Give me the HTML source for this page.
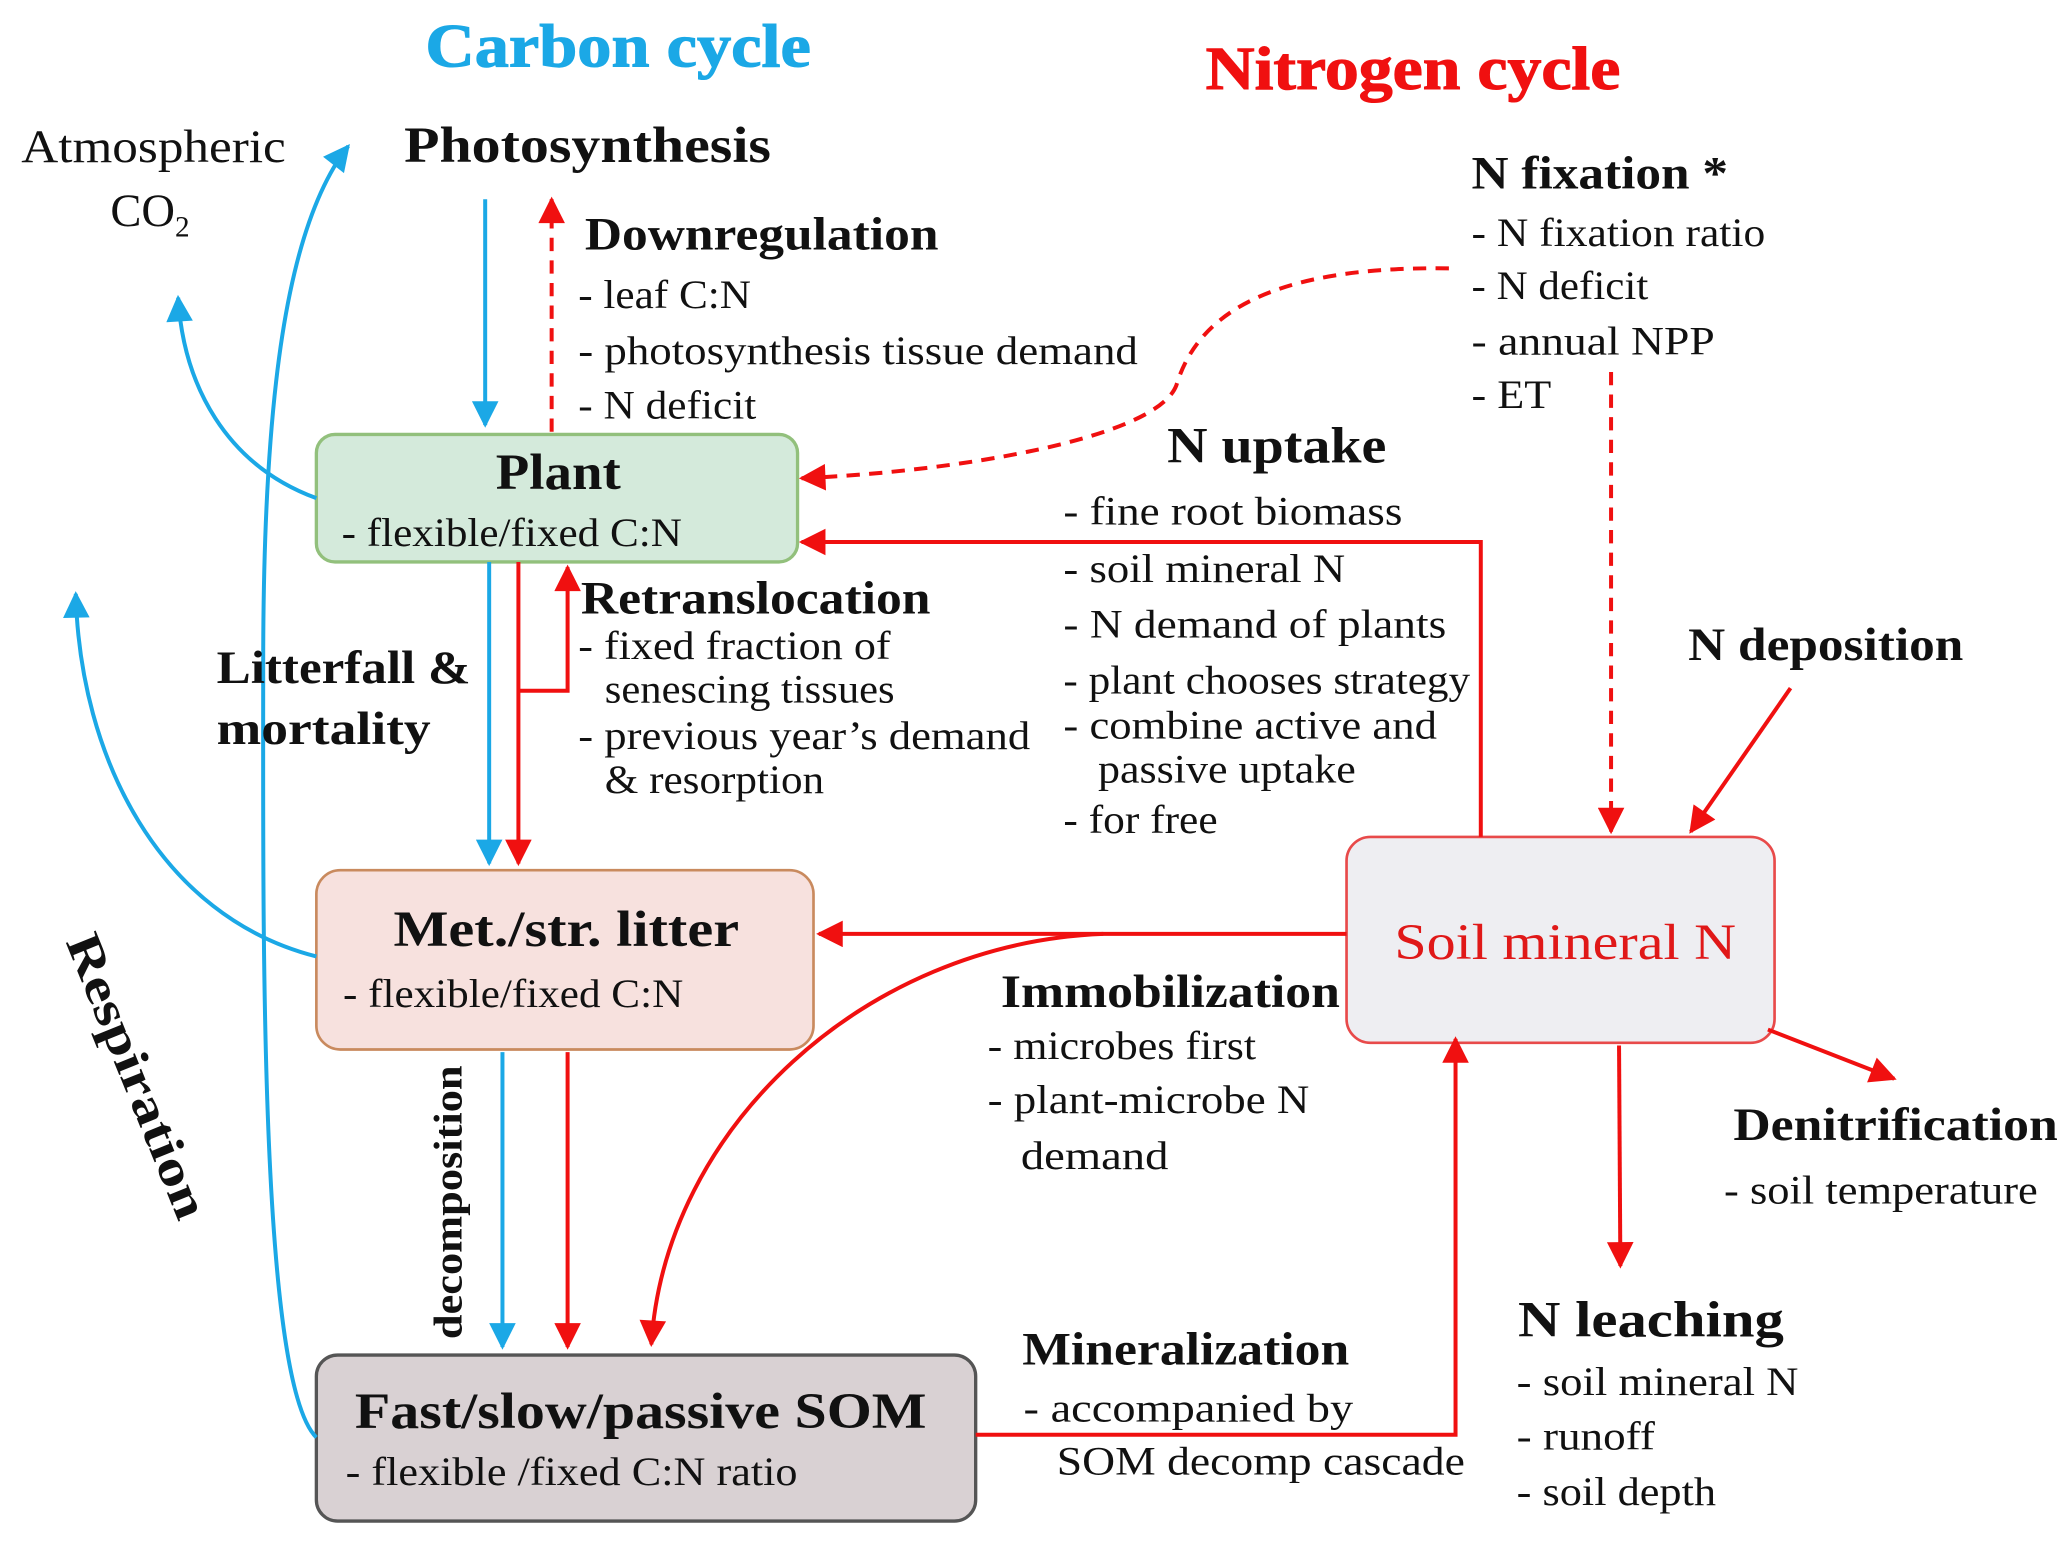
<!DOCTYPE html>
<html><head><meta charset="utf-8"><style>
html,body{margin:0;padding:0;background:#fff;}
svg{display:block;}
text{font-family:"Liberation Serif","DejaVu Serif",serif;fill:#111;}
.b{font-weight:bold;}
.h{font-size:35px;font-weight:bold;}
.t{font-size:30px;}
</style></head><body>
<svg width="2067" height="1545" viewBox="0 0 1555 1163" preserveAspectRatio="none" xmlns="http://www.w3.org/2000/svg">
<defs>
<marker id="abL" viewBox="0 0 10 10" refX="9" refY="5" markerWidth="22" markerHeight="20" markerUnits="userSpaceOnUse" orient="auto"><path d="M0,0L10,5L0,10z" fill="#1ba8e6"/></marker>
<marker id="arL" viewBox="0 0 10 10" refX="9" refY="5" markerWidth="22" markerHeight="20" markerUnits="userSpaceOnUse" orient="auto"><path d="M0,0L10,5L0,10z" fill="#f01010"/></marker>
</defs>

<rect x="238" y="327" width="362" height="96" rx="14" fill="#d4eadb" stroke="#92c07c" stroke-width="2.5"/>
<rect x="238" y="655" width="374" height="135" rx="18" fill="#f7e1de" stroke="#c98a5e" stroke-width="2"/>
<rect x="238" y="1020" width="496" height="125" rx="16" fill="#d9d1d3" stroke="#555" stroke-width="2.5"/>
<rect x="1013" y="630" width="322" height="155" rx="18" fill="#eeeef2" stroke="#e84a4a" stroke-width="2"/>

<g stroke="#1ba8e6" stroke-width="3" fill="none">
<path d="M365,150 L365,320" marker-end="url(#abL)"/>
<path d="M238,375 C170,350 138,290 134,224" marker-end="url(#abL)"/>
<path d="M238,720 C120,690 60,570 57,447" marker-end="url(#abL)"/>
<path d="M238,1082 C195,1040 198,700 198,500 C198,300 215,170 262,110" marker-end="url(#abL)"/>
<path d="M368,423 L368,650" marker-end="url(#abL)"/>
<path d="M378,792 L378,1014" marker-end="url(#abL)"/>
</g>
<g stroke="#f01010" stroke-width="3" fill="none">
<path d="M415,325 L415,150" stroke-dasharray="10,7" marker-end="url(#arL)"/>
<path d="M390,423 L390,650" marker-end="url(#arL)"/>
<path d="M390,520 L427,520 L427,427" marker-end="url(#arL)"/>
<path d="M427,792 L427,1014" marker-end="url(#arL)"/>
<path d="M1090,202 C950,200 900,240 885,290 C870,330 720,355 603,360" stroke-dasharray="10,7" marker-end="url(#arL)"/>
<path d="M1114,630 L1114,408 L603,408" marker-end="url(#arL)"/>
<path d="M1212,280 L1212,626" stroke-dasharray="10,7" marker-end="url(#arL)"/>
<path d="M1347,518 L1272,626" marker-end="url(#arL)"/>
<path d="M1013,703 L616,703" marker-end="url(#arL)"/>
<path d="M830,703 C650,710 500,850 490,1012" marker-end="url(#arL)"/>
<path d="M734,1080 L1095,1080 L1095,782" marker-end="url(#arL)"/>
<path d="M1218,787 L1219,953" marker-end="url(#arL)"/>
<path d="M1330,775 L1425,812" marker-end="url(#arL)"/>
</g>

<g lengthAdjust="spacingAndGlyphs">
<text x="320" y="50" textLength="290" lengthAdjust="spacingAndGlyphs" class="b" style="font-size:46px;fill:#1ba8e6;stroke:#1ba8e6;stroke-width:0.8">Carbon cycle</text>
<text x="907" y="67" textLength="312" lengthAdjust="spacingAndGlyphs" class="b" style="font-size:46px;fill:#f01010;stroke:#f01010;stroke-width:0.8">Nitrogen cycle</text>

<text x="16" y="122" textLength="199" lengthAdjust="spacingAndGlyphs" style="font-size:35px">Atmospheric</text>
<text x="83" y="170" style="font-size:35px">CO<tspan dy="8" style="font-size:22px">2</tspan></text>
<text x="304" y="122" textLength="276" lengthAdjust="spacingAndGlyphs" class="b" style="font-size:38px">Photosynthesis</text>

<text x="440" y="188" textLength="266" lengthAdjust="spacingAndGlyphs" class="h">Downregulation</text>
<text x="435" y="232" textLength="130" lengthAdjust="spacingAndGlyphs" class="t">- leaf C:N</text>
<text x="435" y="274" textLength="421" lengthAdjust="spacingAndGlyphs" class="t">- photosynthesis  tissue  demand</text>
<text x="435" y="315" textLength="134" lengthAdjust="spacingAndGlyphs" class="t">- N deficit</text>

<text x="1107" y="142" textLength="193" lengthAdjust="spacingAndGlyphs" class="h">N fixation *</text>
<text x="1107" y="185" textLength="221" lengthAdjust="spacingAndGlyphs" class="t">- N fixation ratio</text>
<text x="1107" y="225" textLength="133" lengthAdjust="spacingAndGlyphs" class="t">- N deficit</text>
<text x="1107" y="267" textLength="183" lengthAdjust="spacingAndGlyphs" class="t">- annual NPP</text>
<text x="1107" y="307" textLength="60" lengthAdjust="spacingAndGlyphs" class="t">- ET</text>

<text x="373" y="368" textLength="94" lengthAdjust="spacingAndGlyphs" class="b" style="font-size:38px">Plant</text>
<text x="257" y="411" textLength="256" lengthAdjust="spacingAndGlyphs" class="t">- flexible/fixed  C:N</text>

<text x="878" y="348" textLength="165" lengthAdjust="spacingAndGlyphs" class="b" style="font-size:38px">N uptake</text>
<text x="800" y="395" textLength="255" lengthAdjust="spacingAndGlyphs" class="t">- fine root biomass</text>
<text x="800" y="438" textLength="212" lengthAdjust="spacingAndGlyphs" class="t">- soil mineral N</text>
<text x="800" y="480" textLength="288" lengthAdjust="spacingAndGlyphs" class="t">- N demand of plants</text>
<text x="800" y="522" textLength="306" lengthAdjust="spacingAndGlyphs" class="t">- plant chooses strategy</text>
<text x="800" y="556" textLength="281" lengthAdjust="spacingAndGlyphs" class="t">- combine active and</text>
<text x="826" y="589" textLength="194" lengthAdjust="spacingAndGlyphs" class="t">passive uptake</text>
<text x="800" y="627" textLength="116" lengthAdjust="spacingAndGlyphs" class="t">- for free</text>

<text x="437" y="462" textLength="263" lengthAdjust="spacingAndGlyphs" class="h">Retranslocation</text>
<text x="435" y="496" textLength="235" lengthAdjust="spacingAndGlyphs" class="t">- fixed fraction of</text>
<text x="455" y="529" textLength="218" lengthAdjust="spacingAndGlyphs" class="t">senescing tissues</text>
<text x="435" y="564" textLength="340" lengthAdjust="spacingAndGlyphs" class="t">- previous year’s demand</text>
<text x="455" y="597" textLength="165" lengthAdjust="spacingAndGlyphs" class="t">&amp; resorption</text>

<text x="163" y="514" textLength="191" lengthAdjust="spacingAndGlyphs" class="h">Litterfall &amp;</text>
<text x="163" y="560" textLength="161" lengthAdjust="spacingAndGlyphs" class="h">mortality</text>

<text x="1270" y="497" textLength="207" lengthAdjust="spacingAndGlyphs" class="h">N deposition</text>

<text x="296" y="712" textLength="260" lengthAdjust="spacingAndGlyphs" class="b" style="font-size:38px">Met./str. litter</text>
<text x="258" y="758" textLength="256" lengthAdjust="spacingAndGlyphs" class="t">- flexible/fixed  C:N</text>

<text x="1049" y="722" textLength="257" lengthAdjust="spacingAndGlyphs" style="font-size:38px;fill:#e01818">Soil mineral N</text>

<text x="753" y="758" textLength="255" lengthAdjust="spacingAndGlyphs" class="h">Immobilization</text>
<text x="743" y="797" textLength="202" lengthAdjust="spacingAndGlyphs" class="t">- microbes first</text>
<text x="743" y="838" textLength="242" lengthAdjust="spacingAndGlyphs" class="t">- plant-microbe  N</text>
<text x="768" y="880" textLength="111" lengthAdjust="spacingAndGlyphs" class="t">demand</text>

<text x="1304" y="858" textLength="244" lengthAdjust="spacingAndGlyphs" class="h">Denitrification</text>
<text x="1297" y="906" textLength="236" lengthAdjust="spacingAndGlyphs" class="t">- soil temperature</text>

<text transform="translate(103,810) rotate(68)" x="-114" y="12" textLength="228" lengthAdjust="spacingAndGlyphs" class="b" style="font-size:37px">Respiration</text>
<text transform="translate(347,905) rotate(-90)" x="-103" y="0" textLength="206" lengthAdjust="spacingAndGlyphs" class="b" style="font-size:30px">decomposition</text>

<text x="1142" y="1006" textLength="200" lengthAdjust="spacingAndGlyphs" class="b" style="font-size:38px">N leaching</text>
<text x="1141" y="1050" textLength="212" lengthAdjust="spacingAndGlyphs" class="t">- soil mineral N</text>
<text x="1141" y="1091" textLength="104" lengthAdjust="spacingAndGlyphs" class="t">- runoff</text>
<text x="1141" y="1133" textLength="150" lengthAdjust="spacingAndGlyphs" class="t">- soil depth</text>

<text x="769" y="1027" textLength="246" lengthAdjust="spacingAndGlyphs" class="h">Mineralization</text>
<text x="770" y="1070" textLength="248" lengthAdjust="spacingAndGlyphs" class="t">- accompanied  by</text>
<text x="795" y="1110" textLength="307" lengthAdjust="spacingAndGlyphs" class="t">SOM decomp cascade</text>

<text x="267" y="1075" textLength="430" lengthAdjust="spacingAndGlyphs" class="b" style="font-size:38px">Fast/slow/passive SOM</text>
<text x="260" y="1118" textLength="340" lengthAdjust="spacingAndGlyphs" class="t">- flexible  /fixed  C:N ratio</text>
</g>
</svg>
</body></html>
